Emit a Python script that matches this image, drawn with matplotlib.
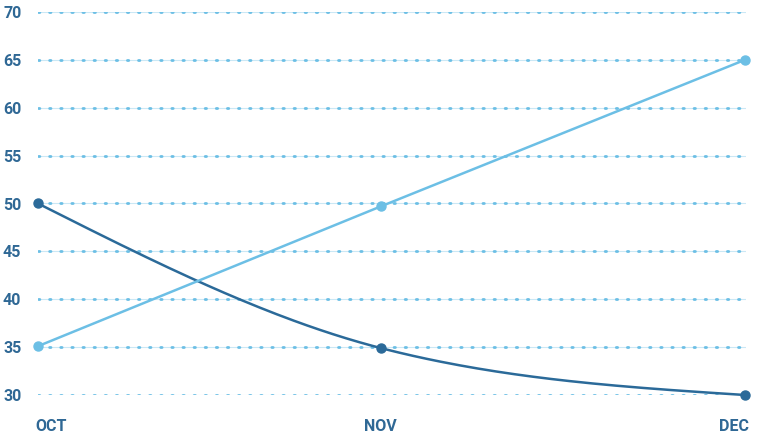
import matplotlib
matplotlib.use("Agg")
import matplotlib.pyplot as plt
import numpy as np

months = ["OCT", "NOV", "DEC"]
month_pos = [0.0, 0.97, 2.0]
series_dark = [50, 34.9, 30]
series_light = [35.1, 49.7, 65]
y_ticks = [30, 35, 40, 45, 50, 55, 60, 65, 70]

DARK = "#2b6a99"
LIGHT = "#6cbfe5"
LABEL = "#2f6895"


def monotone_x(xs, ys, n=80):
    # same tangents as a d3 curveMonotoneX line
    xs = np.asarray(xs, float)
    ys = np.asarray(ys, float)
    h = np.diff(xs)
    s = np.diff(ys) / h
    t = np.zeros_like(ys)
    for i in range(1, len(ys) - 1):
        p = (s[i - 1] * h[i] + s[i] * h[i - 1]) / (h[i - 1] + h[i])
        t[i] = (np.sign(s[i - 1]) + np.sign(s[i])) * min(abs(s[i - 1]), abs(s[i]), 0.5 * abs(p))
    t[0] = (3 * s[0] - t[1]) / 2
    t[-1] = (3 * s[-1] - t[-2]) / 2
    out_x, out_y = [], []
    for i in range(len(xs) - 1):
        dx = h[i] / 3
        px = [xs[i], xs[i] + dx, xs[i + 1] - dx, xs[i + 1]]
        py = [ys[i], ys[i] + dx * t[i], ys[i + 1] - dx * t[i + 1], ys[i + 1]]
        u = np.linspace(0, 1, n)
        b = [(1 - u) ** 3, 3 * (1 - u) ** 2 * u, 3 * (1 - u) * u ** 2, u ** 3]
        out_x.extend(sum(b[k] * px[k] for k in range(4)))
        out_y.extend(sum(b[k] * py[k] for k in range(4)))
    return np.array(out_x), np.array(out_y)


plt.rcParams["font.family"] = ["Roboto", "DejaVu Sans"]
fig = plt.figure(figsize=(7.58, 4.40), dpi=100)
ax = fig.add_axes([38 / 758, 1 - 395 / 440, (746 - 38) / 758, (395 - 12) / 440])

ax.set_xlim(0, 2.003)
ax.set_ylim(30, 70)

for yv in y_ticks:
    ax.axhline(yv, color=LIGHT, lw=0.8, alpha=0.35, zorder=1)
    ax.axhline(yv, color=LIGHT, lw=2, linestyle=(0, (0.5, 3.5)),
               dash_capstyle="round", zorder=1)

cx, cy = monotone_x(month_pos, series_dark)
ax.plot(cx, cy, color=DARK, lw=1.8, zorder=3, clip_on=False)
ax.plot(month_pos, series_dark, "o", color=DARK, ms=6.5, zorder=4, clip_on=False)

ax.plot(month_pos, series_light, color=LIGHT, lw=1.8, zorder=3, clip_on=False)
ax.plot(month_pos, series_light, "o", color=LIGHT, ms=6.5, zorder=4, clip_on=False)

for sp in ax.spines.values():
    sp.set_visible(False)

ax.set_yticks(y_ticks)
ax.set_yticklabels([str(v) for v in y_ticks])
ax.tick_params(axis="y", length=0, pad=12, labelsize=11.5, labelcolor=LABEL)
for lbl in ax.get_yticklabels():
    lbl.set_fontweight("bold")

ax.set_xticks([])
last = len(months) - 1
for i, m in enumerate(months):
    ha = "left" if i == 0 else ("right" if i == last else "center")
    xpos = month_pos[i] - 0.008 if i == 0 else (month_pos[i] + 0.012 if i == last else month_pos[i])
    ax.text(xpos, 26.7, m, ha=ha, va="center", fontsize=11.5, fontweight="bold",
            color=LABEL, clip_on=False)

fig.savefig("out.png", dpi=100)
